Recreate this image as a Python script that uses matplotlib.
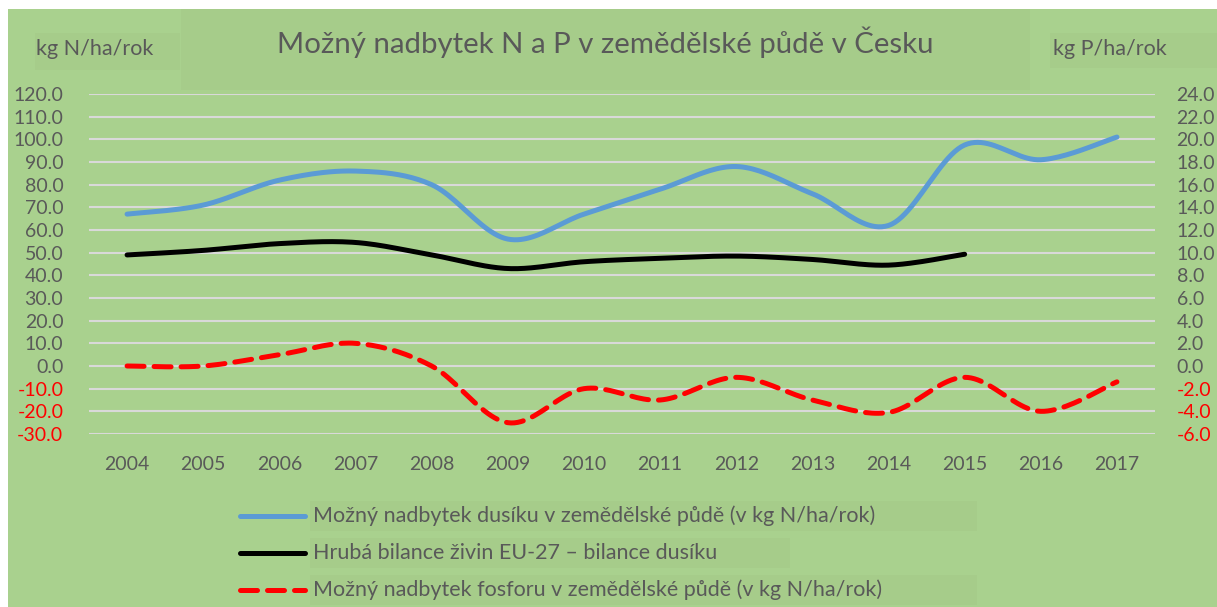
import matplotlib
matplotlib.use("Agg")
import matplotlib.pyplot as plt
from matplotlib.patches import Rectangle
from matplotlib.lines import Line2D
from matplotlib.ticker import FuncFormatter
import numpy as np

plt.rcParams["font.family"] = ["Lato", "DejaVu Sans"]

# data
years = ["2004", "2005", "2006", "2007", "2008", "2009", "2010",
         "2011", "2012", "2013", "2014", "2015", "2016", "2017"]
n_surplus = [67, 71, 82, 86, 80, 56, 67, 78, 88, 76, 62, 97.5, 91, 101]
eu_balance = [49, 51, 54, 54.5, 49, 43, 46, 47.5, 48.5, 47, 44.5, 49.3]
p_surplus = [0, 0, 1, 2, 0, -5, -2, -3, -1, -3, -4.1, -1, -4, -1.4]

labels = ["Možný nadbytek dusíku v zemědělské půdě (v kg N/ha/rok)",
          "Hrubá bilance živin EU-27 – bilance dusíku",
          "Možný nadbytek fosforu v zemědělské půdě (v kg N/ha/rok)"]

BG = "#a9d18e"
BOX = "#a6cc8a"
GRAY = "#595959"
W, H = 1217, 607


def smooth(y, steps=24):
    """Excel-like smoothed line (Catmull-Rom as cubic Bezier)."""
    y = np.asarray(y, dtype=float)
    x = np.arange(len(y), dtype=float)
    p = np.column_stack([x, y])
    p = np.vstack([p[0], p, p[-1]])
    t = np.linspace(0, 1, steps)[:, None]
    out = []
    for i in range(1, len(p) - 2):
        p0, p1, p2, p3 = p[i - 1], p[i], p[i + 1], p[i + 2]
        b1 = p1 + (p2 - p0) / 6
        b2 = p2 - (p3 - p1) / 6
        seg = ((1 - t) ** 3) * p1 + 3 * ((1 - t) ** 2) * t * b1 \
            + 3 * (1 - t) * t ** 2 * b2 + t ** 3 * p2
        out.append(seg if i == 1 else seg[1:])
    out = np.vstack(out)
    return out[:, 0], out[:, 1]


def fx(px):
    return px / W


def fy(py):
    return 1 - py / H


fig = plt.figure(figsize=(W / 100, H / 100), dpi=100)
fig.patch.set_facecolor("white")
fig.add_artist(Rectangle((fx(8), 0), 1 - fx(8), fy(9), transform=fig.transFigure,
                         facecolor=BG, edgecolor="none", zorder=-10))
# subtle boxes behind the titles
for (x0, y0, x1, y1) in [(181, 9, 1030, 90), (35, 33, 180, 70), (1050, 33, 1217, 68)]:
    fig.add_artist(Rectangle((fx(x0), fy(y1)), fx(x1 - x0), (y1 - y0) / H,
                             transform=fig.transFigure, facecolor=BOX,
                             edgecolor="none", zorder=-9))

ax = fig.add_axes([fx(89), fy(434), fx(1155 - 89), (434 - 94) / H])
ax.set_facecolor("none")
ax2 = ax.twinx()

xs, ys = smooth(n_surplus)
ax.plot(xs, ys, color="#5b9bd5", lw=3.6, solid_capstyle="round", zorder=3)
xs, ys = smooth(eu_balance)
ax.plot(xs, ys, color="black", lw=3.6, solid_capstyle="round", zorder=3)
xs, ys = smooth(p_surplus)
ax2.plot(xs, ys, color="#ff0000", lw=3.6, dashes=(3.4, 2.0),
         dash_capstyle="round", zorder=3)

ax.set_xlim(-0.5, len(years) - 0.5)
ax.set_ylim(-30, 120)
ax2.set_ylim(-6, 24)
ax.set_yticks(np.arange(-30, 121, 10))
ax2.set_yticks(np.arange(-6, 25, 2))
ax.set_xticks(range(len(years)))
ax.set_xticklabels(years)

fmt = FuncFormatter(lambda v, pos: f"{v:.1f}")
ax.yaxis.set_major_formatter(fmt)
ax2.yaxis.set_major_formatter(fmt)

ax.grid(axis="y", color="#d9d9d9", lw=1.5)
ax.set_axisbelow(True)
for a in (ax, ax2):
    for s in a.spines.values():
        s.set_visible(False)
    a.tick_params(length=0, labelsize=14, labelcolor=GRAY)
ax.tick_params(axis="y", pad=18.5)
ax2.tick_params(axis="y", pad=15.5)
ax.tick_params(axis="x", pad=16)

for a, ticks in ((ax, ax.get_yticks()), (ax2, ax2.get_yticks())):
    for lab, v in zip(a.get_yticklabels(), ticks):
        if v < 0:
            lab.set_color("#ff0000")

fig.text(fx(605), fy(42), "Možný nadbytek N a P v zemědělské půdě v Česku",
         ha="center", va="center", fontsize=21.2, color=GRAY)
fig.text(fx(95), fy(49), "kg N/ha/rok", ha="center", va="center",
         fontsize=15.5, color=GRAY)
fig.text(fx(1110), fy(49), "kg P/ha/rok", ha="center", va="center",
         fontsize=15.5, color=GRAY)

# legend
rows = [516, 553, 590]
styles = [dict(color="#5b9bd5"), dict(color="black"),
          dict(color="#ff0000", dashes=(3.4, 2.0), dash_capstyle="round")]
box_right = [977, 790, 977]
for yy, lab, st, br in zip(rows, labels, styles, box_right):
    fig.add_artist(Rectangle((fx(310), fy(yy + 15)), fx(br - 310), 30 / H,
                             transform=fig.transFigure, facecolor=BOX,
                             edgecolor="none", zorder=-9))
    fig.add_artist(Line2D([fx(240), fx(305)], [fy(yy), fy(yy)],
                          transform=fig.transFigure, lw=3.6,
                          solid_capstyle="round", **st))
    fig.text(fx(313), fy(yy), lab, ha="left", va="center", fontsize=15.5,
             color=GRAY)

fig.savefig("out.png", dpi=100, facecolor=fig.get_facecolor())
